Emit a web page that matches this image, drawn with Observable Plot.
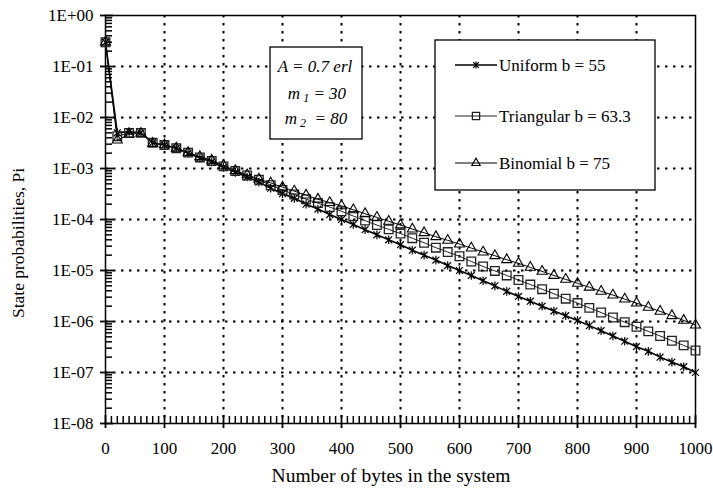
<!DOCTYPE html>
<html>
<head>
<meta charset="utf-8">
<script src="https://cdn.jsdelivr.net/npm/d3@7"></script>
<script src="https://cdn.jsdelivr.net/npm/@observablehq/plot@0.6"></script>
<style>
  body { margin: 0; background: #fff; }
  svg { display: block; }
</style>
</head>
<body>
<div id="chart"></div>
<script>
// Number of bytes in the system (state index)
const bytes = [0, 20, 40, 60, 80, 100, 120, 140, 160, 180, 200, 220, 240, 260, 280, 300,
  320, 340, 360, 380, 400, 420, 440, 460, 480, 500, 520, 540, 560, 580, 600,
  620, 640, 660, 680, 700, 720, 740, 760, 780, 800, 820, 840, 860, 880, 900,
  920, 940, 960, 980, 1000];

// State probabilities for each bandwidth distribution
const uniform = [0.3, 5.0e-3, 5.3e-3, 5.0e-3, 3.2e-3, 2.9e-3, 2.5e-3, 2.0e-3, 1.6e-3, 1.35e-3, 1.05e-3,
  8.4e-4, 6.8e-4, 5.4e-4, 4.1e-4, 3.2e-4, 2.6e-4, 2.0e-4, 1.6e-4, 1.25e-4, 1.0e-4,
  8.0e-5, 6.3e-5, 5.0e-5, 4.0e-5, 3.2e-5, 2.5e-5, 2.0e-5, 1.6e-5, 1.25e-5, 1.0e-5,
  8.0e-6, 6.3e-6, 5.0e-6, 3.9e-6, 3.1e-6, 2.5e-6, 2.0e-6, 1.6e-6, 1.3e-6, 1.05e-6,
  8.3e-7, 6.6e-7, 5.2e-7, 4.1e-7, 3.2e-7, 2.6e-7, 2.0e-7, 1.6e-7, 1.3e-7, 1.0e-7];

const triangular = [0.3, 4.3e-3, 5.0e-3, 5.0e-3, 3.2e-3, 2.9e-3, 2.5e-3, 2.05e-3, 1.65e-3, 1.4e-3, 1.1e-3,
  8.9e-4, 7.3e-4, 6.0e-4, 4.7e-4, 3.8e-4, 3.1e-4, 2.5e-4, 2.1e-4, 1.75e-4, 1.45e-4,
  1.17e-4, 9.5e-5, 7.8e-5, 6.4e-5, 5.3e-5, 4.3e-5, 3.5e-5, 2.8e-5, 2.3e-5, 1.9e-5,
  1.5e-5, 1.2e-5, 9.8e-6, 8.0e-6, 6.5e-6, 5.3e-6, 4.3e-6, 3.5e-6, 2.8e-6, 2.3e-6,
  1.85e-6, 1.5e-6, 1.2e-6, 9.7e-7, 7.9e-7, 6.4e-7, 5.2e-7, 4.2e-7, 3.4e-7, 2.7e-7];

const binomial = [0.3, 3.6e-3, 4.7e-3, 4.9e-3, 3.1e-3, 2.9e-3, 2.5e-3, 2.05e-3, 1.7e-3, 1.45e-3, 1.15e-3,
  9.1e-4, 7.5e-4, 6.2e-4, 5.2e-4, 4.3e-4, 3.6e-4, 3.0e-4, 2.5e-4, 2.15e-4, 1.85e-4,
  1.55e-4, 1.3e-4, 1.1e-4, 9.2e-5, 7.8e-5, 6.5e-5, 5.5e-5, 4.6e-5, 3.9e-5, 3.3e-5,
  2.75e-5, 2.3e-5, 1.95e-5, 1.63e-5, 1.38e-5, 1.15e-5, 9.6e-6, 8.0e-6, 6.7e-6, 5.6e-6,
  4.7e-6, 3.9e-6, 3.3e-6, 2.75e-6, 2.3e-6, 1.9e-6, 1.58e-6, 1.3e-6, 1.05e-6, 8.5e-7];

const seriesNames = ["Uniform b = 55", "Triangular b = 63.3", "Binomial b = 75"];
const xTicks = [0, 100, 200, 300, 400, 500, 600, 700, 800, 900, 1000];
const yTicks = [1, 1e-1, 1e-2, 1e-3, 1e-4, 1e-5, 1e-6, 1e-7, 1e-8];
const xMinorTicks = d3.range(0, 1001, 10).filter(v => v % 100 !== 0);
const yMinorTicks = yTicks.slice(1).flatMap(p => [2, 3, 4, 5, 6, 7, 8, 9].map(m => m * p));

const xDomain = [0, 1000];
const yDomain = [1e-8, 1];

// Excel-style star marker: vertical bar plus a diagonal cross
const starSymbol = {
  draw(context, size) {
    const r = Math.sqrt(size / Math.PI);
    const d = r * 0.8;
    context.moveTo(0, -r); context.lineTo(0, r);
    context.moveTo(-d, -d); context.lineTo(d, d);
    context.moveTo(-d, d); context.lineTo(d, -d);
  }
};

const styles = [
  {name: seriesNames[0], values: uniform, symbol: starSymbol, r: 4.3, lineWidth: 1.6, stroke: "#000", markWidth: 1.2},
  {name: seriesNames[1], values: triangular, symbol: d3.symbolSquare2, r: 5.5, lineWidth: 1, stroke: "#222", markWidth: 1.3},
  {name: seriesNames[2], values: binomial, symbol: d3.symbolTriangle2, r: 4.8, lineWidth: 1, stroke: "#000", markWidth: 1.1}
];

const rows = styles.flatMap(s => bytes.map((b, i) => ({series: s.name, bytes: b, p: s.values[i]})));

const fmtExp = d => {
  const e = Math.round(Math.log10(d));
  return "1E" + (e >= 0 ? "+" : "-") + String(Math.abs(e)).padStart(2, "0");
};

const W = 713, H = 490;
const font = "'Liberation Serif', 'Times New Roman', serif";
const tickStyle = {stroke: "#000", strokeWidth: 1.5};

const marks = [
  Plot.gridX(xTicks.slice(1, -1), {stroke: "#000", strokeOpacity: 1, strokeWidth: 2, strokeDasharray: "2.5,5.5"}),
  Plot.gridY(yTicks.slice(1, -1), {stroke: "#000", strokeOpacity: 1, strokeWidth: 2, strokeDasharray: "2.5,5.5"}),
  Plot.axisX(xTicks, {tickSize: 0, tickPadding: 18, tickFormat: d => String(d), label: null, fontSize: 17}),
  Plot.axisY(yTicks, {tickSize: 0, tickPadding: 12, tickFormat: fmtExp, label: null, fontSize: 17}),
  Plot.frame({stroke: "#000", strokeWidth: 1.5})
];

for (const s of styles) {
  const data = rows.filter(d => d.series === s.name);
  marks.push(Plot.line(data, {x: "bytes", y: "p", stroke: s.stroke, strokeWidth: s.lineWidth}));
}
for (const s of styles) {
  const data = rows.filter(d => d.series === s.name);
  marks.push(Plot.dot(data, {x: "bytes", y: "p", symbol: () => s.symbol, r: s.r, stroke: s.stroke, fill: "none", strokeWidth: s.markWidth}));
}

// Axis tick marks, drawn last: minor ticks point into the plot, major ticks cross the axis line
marks.push(
  Plot.ruleX(xMinorTicks, {y1: yDomain[0], y2: yDomain[0], insetBottom: 7, ...tickStyle}),
  Plot.ruleY(yMinorTicks, {x1: xDomain[0], x2: xDomain[0], insetRight: -7, ...tickStyle}),
  Plot.ruleX(xTicks, {y1: yDomain[0], y2: yDomain[0], insetTop: 5, insetBottom: 8, ...tickStyle, strokeWidth: 1.8}),
  Plot.ruleY(yTicks, {x1: xDomain[0], x2: xDomain[0], insetLeft: -5, insetRight: -8, ...tickStyle, strokeWidth: 1.8})
);

const chart = Plot.plot({
  width: W,
  height: H,
  marginLeft: 105,
  marginRight: 18,
  marginTop: 15,
  marginBottom: 67,
  style: {fontFamily: font, fontSize: "17px", background: "#fff", color: "#000"},
  x: {domain: xDomain},
  y: {type: "log", domain: yDomain},
  marks
});

document.getElementById("chart").appendChild(chart);

// Axis titles, parameter box and legend
const svg = d3.select(chart);
const g = svg.append("g").attr("font-family", font).attr("fill", "#000").attr("text-anchor", "start");

g.append("text")
  .attr("x", 391).attr("y", 482)
  .attr("text-anchor", "middle").attr("font-size", 19.5)
  .text("Number of bytes in the system");

g.append("text")
  .attr("transform", "translate(24,243) rotate(-90)")
  .attr("text-anchor", "middle").attr("font-size", 17.5)
  .text("State probabilities, Pi");

// Traffic parameters
const box = g.append("g");
box.append("rect").attr("x", 270).attr("y", 47).attr("width", 92).attr("height", 92)
  .attr("fill", "#fff").attr("stroke", "#000").attr("stroke-width", 1.3);
const paramText = box.append("g").attr("font-style", "italic").attr("font-size", 17).attr("text-anchor", "middle");
paramText.append("text").attr("x", 315).attr("y", 72).text("A = 0.7 erl");
const m1 = paramText.append("text").attr("x", 317).attr("y", 99);
m1.append("tspan").text("m");
m1.append("tspan").attr("font-size", 12).attr("dx", 3).attr("dy", 3).text("1");
m1.append("tspan").attr("dy", -3).text(" = 30");
const m2 = paramText.append("text").attr("x", 316).attr("y", 124);
m2.append("tspan").text("m");
m2.append("tspan").attr("font-size", 12).attr("dx", 3).attr("dy", 3).text("2");
m2.append("tspan").attr("dy", -3).text("  = 80");

// Legend
const legend = g.append("g");
legend.append("rect").attr("x", 435).attr("y", 40).attr("width", 220).attr("height", 150)
  .attr("fill", "#fff").attr("stroke", "#000").attr("stroke-width", 1.3);
const legendY = [65, 116, 163];
styles.forEach((s, i) => {
  const y = legendY[i];
  legend.append("line").attr("x1", 455).attr("x2", 497).attr("y1", y).attr("y2", y)
    .attr("stroke", s.stroke).attr("stroke-width", s.lineWidth);
  legend.append("path")
    .attr("transform", `translate(476,${y})`)
    .attr("d", d3.symbol(s.symbol, Math.PI * s.r * s.r * 0.7)())
    .attr("fill", "none").attr("stroke", s.stroke).attr("stroke-width", s.markWidth);
  legend.append("text").attr("x", 499).attr("y", y + 6).attr("text-anchor", "start")
    .attr("font-size", 17).text(s.name);
});
</script>
</body>
</html>
